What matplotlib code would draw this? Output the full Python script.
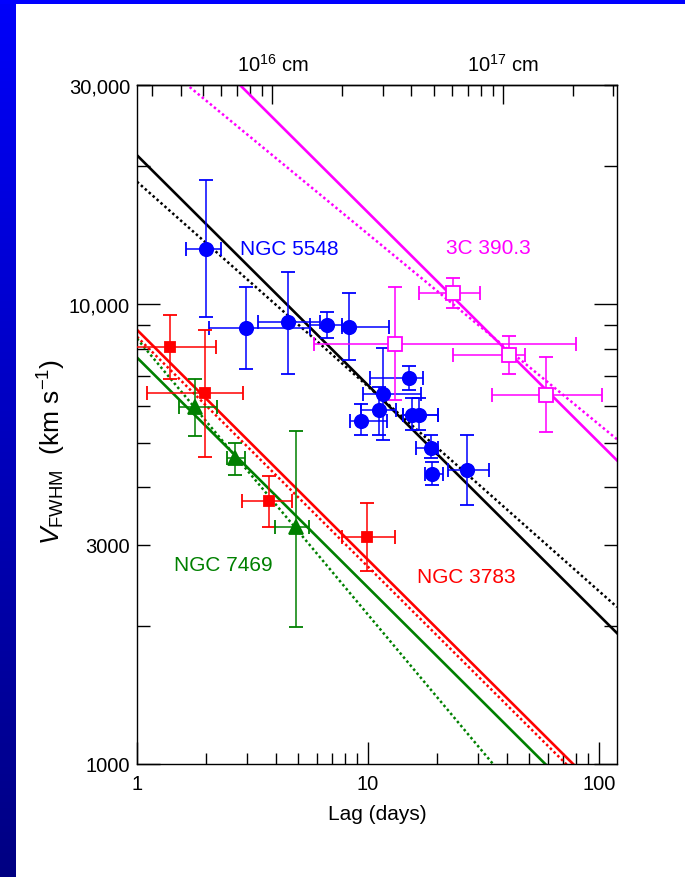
import numpy as np
import matplotlib.pyplot as plt
from matplotlib.ticker import FuncFormatter, NullFormatter, LogLocator, FixedLocator
from matplotlib.patches import Rectangle

plt.rcParams['font.family'] = ['Liberation Sans', 'DejaVu Sans']
plt.rcParams['mathtext.fontset'] = 'custom'
plt.rcParams['mathtext.rm'] = 'Liberation Sans'
plt.rcParams['mathtext.it'] = 'Liberation Sans:italic'

# NGC 5548: lag (days) and line width (km/s), with lower/upper bounds
n5548_lag = [1.99, 2.97, 4.49, 6.63, 8.30, 15.05, 11.65, 11.16, 9.30, 15.5, 16.6, 18.74, 18.98, 27.0]
n5548_lag_lo = [1.63, 2.05, 3.35, 5.61, 7.69, 10.2, 9.49, 9.30, 8.36, 14.2, 14.2, 16.14, 17.65, 22.3]
n5548_lag_hi = [2.30, 5.6, 6.2, 7.69, 12.3, 17.35, 16.96, 13.3, 12.1, 20.15, 20.15, 20.15, 21.18, 33.5]
n5548_v = [13200, 8870, 9150, 9020, 8940, 6910, 6370, 5880, 5570, 5750, 5750, 4880, 4280, 4360]
n5548_v_lo = [9400, 7230, 7070, 8440, 7560, 6500, 5060, 5200, 5200, 5330, 5330, 4620, 4040, 3660]
n5548_v_hi = [18600, 10900, 11780, 9640, 10600, 7340, 8020, 6600, 6060, 6240, 6240, 5190, 4530, 5200]

# 3C 390.3
c390_lag = [23.4, 13.1, 40.8, 59.4]
c390_lag_lo = [16.6, 5.84, 23.4, 34.5]
c390_lag_hi = [30.5, 79.5, 47.8, 103.8]
c390_v = [10600, 8210, 7750, 6350]
c390_v_lo = [9840, 6190, 7070, 5280]
c390_v_hi = [11390, 10900, 8530, 7680]

# NGC 3783
n3783_lag = [1.39, 1.98, 3.73, 9.93]
n3783_lag_lo = [0.95, 1.10, 2.86, 7.74]
n3783_lag_hi = [2.19, 2.89, 4.70, 13.1]
n3783_v = [8080, 6400, 3730, 3120]
n3783_v_lo = [6870, 4660, 3270, 2630]
n3783_v_hi = [9480, 8780, 4230, 3690]

# NGC 7469
n7469_lag = [1.78, 2.66, 4.88]
n7469_lag_lo = [1.52, 2.45, 3.96]
n7469_lag_hi = [2.23, 2.94, 5.55]
n7469_v = [5970, 4620, 3270]
n7469_v_lo = [5160, 4250, 1990]
n7469_v_hi = [6870, 4990, 5290]

# power-law fits V = norm * lag**slope : (norm, slope) for fixed -1/2 and free slope
fit_5548 = [(21100, -0.5), (18480, -0.445)]
fit_390 = [(50130, -0.5), (36910, -0.414)]
fit_3783 = [(8800, -0.5), (8500, -0.5)]
fit_7469 = [(7660, -0.5), (8420, -0.60)]

fig = plt.figure(figsize=(6.85, 8.78), dpi=100)

# blue slide frame
strip = fig.add_axes([0, 0, 16 / 685, 1])
grad = np.linspace(250, 130, 256)
rgb = np.zeros((256, 1, 3))
rgb[:, 0, 2] = grad / 255
strip.imshow(rgb, aspect='auto', extent=[0, 1, 0, 1])
strip.axis('off')
fig.add_artist(Rectangle((0, 1 - 5 / 878), 1, 5 / 878, transform=fig.transFigure,
                         color='#0000ff', lw=0))

ax = fig.add_axes([137 / 685, 1 - 765 / 878, 480 / 685, 679 / 878])
ax.set_xscale('log')
ax.set_yscale('log')
xmin, xmax = 1, 120
ax.set_xlim(xmin, xmax)
ax.set_ylim(1000, 30000)

lags = np.logspace(0, np.log10(xmax), 200)
groups = [
    (fit_5548, n5548_lag, n5548_lag_lo, n5548_lag_hi, n5548_v, n5548_v_lo, n5548_v_hi,
     'black', '#0000ff', 'o', 9.6, '#0000ff'),
    (fit_390, c390_lag, c390_lag_lo, c390_lag_hi, c390_v, c390_v_lo, c390_v_hi,
     '#ff00ff', '#ff00ff', 's', 9.5, 'white'),
    (fit_3783, n3783_lag, n3783_lag_lo, n3783_lag_hi, n3783_v, n3783_v_lo, n3783_v_hi,
     '#ff0000', '#ff0000', 's', 7.7, '#ff0000'),
    (fit_7469, n7469_lag, n7469_lag_lo, n7469_lag_hi, n7469_v, n7469_v_lo, n7469_v_hi,
     '#008000', '#008000', '^', 9.6, '#008000'),
]

for fit, lag, lo, hi, v, vlo, vhi, lcol, col, mk, ms, fc in groups:
    (n1, s1), (n2, s2) = fit
    ax.plot(lags, n1 * lags ** s1, color=lcol, lw=1.9, zorder=2)
    ax.plot(lags, n2 * lags ** s2, color=lcol, lw=1.8, ls=(0, (1, 1.1)), zorder=2)
    lag = np.array(lag)
    v = np.array(v)
    xerr = [lag - np.array(lo), np.array(hi) - lag]
    yerr = [v - np.array(vlo), np.array(vhi) - v]
    ax.errorbar(lag, v, xerr=xerr, yerr=yerr, fmt=mk, ms=ms, mfc=fc, mec=col, mew=1.3,
                color=col, elinewidth=1.1, capsize=5, capthick=1.1, zorder=3)

ax.text(2.79, 13250, 'NGC 5548', color='#0000ff', fontsize=15, ha='left', va='center')
ax.text(21.9, 13300, '3C 390.3', color='#ff00ff', fontsize=15, ha='left', va='center')
ax.text(1.45, 2720, 'NGC 7469', color='#008000', fontsize=15, ha='left', va='center')
ax.text(16.4, 2563, 'NGC 3783', color='#ff0000', fontsize=15, ha='left', va='center')

# axis ticks
ax.xaxis.set_major_formatter(FuncFormatter(lambda v, p: f'{v:g}'))
ax.xaxis.set_minor_formatter(NullFormatter())
ax.yaxis.set_major_locator(LogLocator(base=10))
ax.yaxis.set_minor_locator(LogLocator(base=10, subs=np.arange(2, 10)))


def ylab(v, p):
    names = {1000: '1000', 3000: '3000', 10000: '10,000', 30000: '30,000'}
    for k, s in names.items():
        if abs(v - k) / k < 1e-6:
            return s
    return ''


ax.yaxis.set_major_formatter(FuncFormatter(ylab))
ax.yaxis.set_minor_formatter(FuncFormatter(ylab))
ax.tick_params(axis='both', which='both', direction='in', labelsize=14.5, width=1.0,
               top=False, right=True)
ax.tick_params(axis='x', which='major', length=16, pad=7)
ax.tick_params(axis='x', which='minor', length=8, pad=7)
ax.tick_params(axis='y', which='major', length=16.5, pad=5)
ax.tick_params(axis='y', which='minor', length=9.4, pad=5)
for sp in ax.spines.values():
    sp.set_linewidth(1.0)

# top axis: lag as light-travel distance in cm
cm_per_day = 2.59e15
sec = ax.secondary_xaxis('top', functions=(lambda d: d * cm_per_day, lambda c: c / cm_per_day))
sec.xaxis.set_major_locator(FixedLocator([1e16, 1e17]))
sec.xaxis.set_minor_locator(FixedLocator(
    [k * 1e15 for k in range(3, 10)] + [k * 1e16 for k in range(2, 10)] + [2e17, 3e17]))
sec.xaxis.set_major_formatter(FuncFormatter(
    lambda v, p: rf'10$^{{{int(round(np.log10(v)))}}}$ cm'))
sec.xaxis.set_minor_formatter(NullFormatter())
sec.tick_params(which='both', direction='in', labelsize=14.5, width=1.0, pad=7)
sec.tick_params(which='major', length=14)
sec.tick_params(which='minor', length=8)
sec.spines['top'].set_linewidth(1.0)

ax.set_xlabel('Lag (days)', fontsize=15, labelpad=8)
fig.text(52 / 685, 1 - 452 / 878, r'$V_{\mathrm{FWHM}}$  (km s$^{-1}$)', rotation=90,
         fontsize=19, ha='center', va='center')

fig.savefig('out.png', dpi=100)
